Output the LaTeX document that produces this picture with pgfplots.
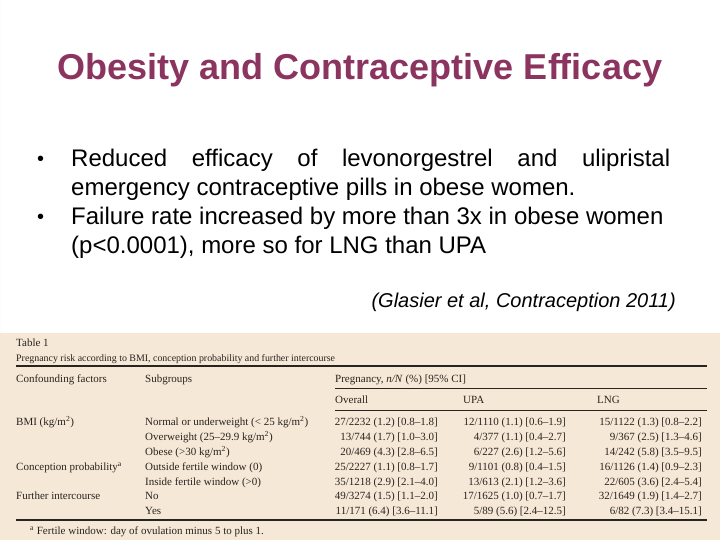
\documentclass[border=0pt]{standalone}
\usepackage{pgfplots}
\pgfplotsset{compat=1.18}
\usepackage{fontspec}
\setmainfont{Liberation Sans}
\newfontfamily\tablefont{Liberation Serif}
\definecolor{titlecol}{RGB}{140,52,96}
\definecolor{beige}{RGB}{246,232,214}
\definecolor{tabtext}{RGB}{40,36,32}
\begin{document}
\begin{tikzpicture}
\begin{axis}[
  hide axis, scale only axis, width=720pt, height=540pt,
  xmin=0, xmax=720, ymin=0, ymax=540, y dir=reverse, clip=false,
]
% slide background and table image area
\addplot[fill=white, draw=none] coordinates {(0,0) (720,0) (720,540) (0,540)} \closedcycle;
\addplot[fill=beige, draw=none] coordinates {(0,333) (720,333) (720,540) (0,540)} \closedcycle;
% table rules
\addplot[tabtext, line width=2.2pt] coordinates {(16,366) (707,366)};
\addplot[tabtext, line width=0.7pt] coordinates {(335,388) (707,388)};
\addplot[tabtext, line width=0.7pt] coordinates {(335,410) (707,410)};
\addplot[tabtext, line width=1.1pt] coordinates {(16,520) (707,520)};

% title
\node[anchor=base, inner sep=0pt, text=titlecol, font=\fontsize{36}{43}\selectfont\bfseries] at (axis cs:360,80) {Obesity and Contraceptive Efficacy};
% bullets
\begin{scope}[every node/.style={font=\fontsize{24}{29}\selectfont, text=black, inner sep=0pt}]
\node[anchor=base west, font=\fontsize{20}{24}\selectfont] at (axis cs:37,166) {\textbullet};
\node[anchor=base west] at (axis cs:71,167) {\makebox[599pt][s]{Reduced efficacy of levonorgestrel and ulipristal}};
\node[anchor=base west] at (axis cs:71,196) {emergency contraceptive pills in obese women.};
\node[anchor=base west, font=\fontsize{20}{24}\selectfont] at (axis cs:37,224) {\textbullet};
\node[anchor=base west] at (axis cs:71,225) {Failure rate increased by more than 3x in obese women};
\node[anchor=base west] at (axis cs:71,253) {(p<0.0001), more so for LNG than UPA};
\end{scope}
\node[anchor=base east, inner sep=0pt, font=\fontsize{20}{24}\selectfont\itshape] at (axis cs:676,307) {(Glasier et al, Contraception 2011)};

% table text
\begin{scope}[every node/.style={font=\tablefont\fontsize{11}{13}\selectfont, text=tabtext, inner sep=0pt}]
\node[anchor=base west] at (axis cs:16,346) {Table 1};
\node[anchor=base west, font=\tablefont\fontsize{9.9}{12}\selectfont] at (axis cs:16,361) {Pregnancy risk according to BMI, conception probability and further intercourse};
\node[anchor=base west] at (axis cs:16,382) {Confounding factors};
\node[anchor=base west] at (axis cs:145,382) {Subgroups};
\node[anchor=base west] at (axis cs:335,382) {Pregnancy, \textit{n/N} (\%) [95\% CI]};
\node[anchor=base west] at (axis cs:335,403) {Overall};
\node[anchor=base west] at (axis cs:463,403) {UPA};
\node[anchor=base west] at (axis cs:597,403) {LNG};
% rows
\node[anchor=base west] at (axis cs:16,425) {BMI (kg/m\textsuperscript{2})};
\node[anchor=base west] at (axis cs:145,425) {Normal or underweight (< 25 kg/m\textsuperscript{2})};
\node[anchor=base east] at (axis cs:438,425) {27/2232 (1.2) [0.8–1.8]};
\node[anchor=base east] at (axis cs:566,425) {12/1110 (1.1) [0.6–1.9]};
\node[anchor=base east] at (axis cs:702,425) {15/1122 (1.3) [0.8–2.2]};

\node[anchor=base west] at (axis cs:145,440) {Overweight (25–29.9 kg/m\textsuperscript{2})};
\node[anchor=base east] at (axis cs:438,440) {13/744 (1.7) [1.0–3.0]};
\node[anchor=base east] at (axis cs:566,440) {4/377 (1.1) [0.4–2.7]};
\node[anchor=base east] at (axis cs:702,440) {9/367 (2.5) [1.3–4.6]};

\node[anchor=base west] at (axis cs:145,455) {Obese (>30 kg/m\textsuperscript{2})};
\node[anchor=base east] at (axis cs:438,455) {20/469 (4.3) [2.8–6.5]};
\node[anchor=base east] at (axis cs:566,455) {6/227 (2.6) [1.2–5.6]};
\node[anchor=base east] at (axis cs:702,455) {14/242 (5.8) [3.5–9.5]};

\node[anchor=base west] at (axis cs:16,470) {Conception probability\textsuperscript{a}};
\node[anchor=base west] at (axis cs:145,470) {Outside fertile window (0)};
\node[anchor=base east] at (axis cs:438,470) {25/2227 (1.1) [0.8–1.7]};
\node[anchor=base east] at (axis cs:566,470) {9/1101 (0.8) [0.4–1.5]};
\node[anchor=base east] at (axis cs:702,470) {16/1126 (1.4) [0.9–2.3]};

\node[anchor=base west] at (axis cs:145,485) {Inside fertile window (>0)};
\node[anchor=base east] at (axis cs:438,485) {35/1218 (2.9) [2.1–4.0]};
\node[anchor=base east] at (axis cs:566,485) {13/613 (2.1) [1.2–3.6]};
\node[anchor=base east] at (axis cs:702,485) {22/605 (3.6) [2.4–5.4]};

\node[anchor=base west] at (axis cs:16,499) {Further intercourse};
\node[anchor=base west] at (axis cs:145,499) {No};
\node[anchor=base east] at (axis cs:438,499) {49/3274 (1.5) [1.1–2.0]};
\node[anchor=base east] at (axis cs:566,499) {17/1625 (1.0) [0.7–1.7]};
\node[anchor=base east] at (axis cs:702,499) {32/1649 (1.9) [1.4–2.7]};

\node[anchor=base west] at (axis cs:145,514) {Yes};
\node[anchor=base east] at (axis cs:438,514) {11/171 (6.4) [3.6–11.1]};
\node[anchor=base east] at (axis cs:566,514) {5/89 (5.6) [2.4–12.5]};
\node[anchor=base east] at (axis cs:702,514) {6/82 (7.3) [3.4–15.1]};

\node[anchor=base west] at (axis cs:30,534) {\textsuperscript{a}\ Fertile window: day of ovulation minus 5 to plus 1.};
\end{scope}
\end{axis}
\end{tikzpicture}
\end{document}
